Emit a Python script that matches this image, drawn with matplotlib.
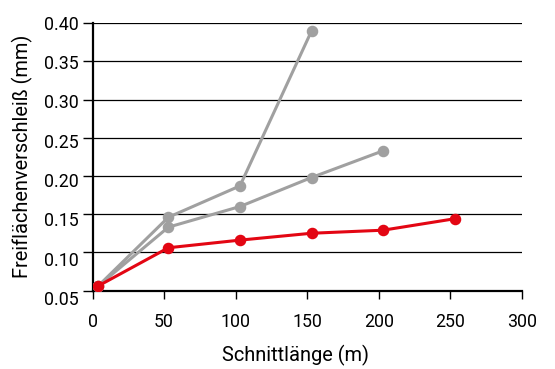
import matplotlib
matplotlib.use("Agg")
import matplotlib.pyplot as plt

# cutting length (m)
x_red = [4, 53, 103, 153, 203, 253]
wear_red = [0.056, 0.106, 0.116, 0.125, 0.129, 0.144]

x_gray1 = [4, 53, 103, 153]
wear_gray1 = [0.056, 0.146, 0.187, 0.390]

x_gray2 = [4, 53, 103, 153, 203]
wear_gray2 = [0.056, 0.133, 0.160, 0.198, 0.233]

y_ticks = [0.05, 0.10, 0.15, 0.20, 0.25, 0.30, 0.35, 0.40]
x_ticks = [0, 50, 100, 150, 200, 250, 300]

RED = "#e30613"
GRAY = "#a0a0a0"

plt.rcParams["font.family"] = ["Roboto", "DejaVu Sans"]
plt.rcParams["font.size"] = 12.8

fig = plt.figure(figsize=(5.55, 3.69), dpi=100)
ax = fig.add_axes([0.1667, 0.2127, 0.7738, 0.7242])

for y in y_ticks[1:]:
    ax.axhline(y, color="black", lw=0.9, zorder=1)

ax.plot(x_gray1, wear_gray1, color=GRAY, lw=2.2, marker="o", ms=7.3, zorder=3)
ax.plot(x_gray2, wear_gray2, color=GRAY, lw=2.2, marker="o", ms=7.3, zorder=3)
ax.plot(x_red, wear_red, color=RED, lw=2.2, marker="o", ms=7.3, zorder=4)

ax.set_xlim(0, 300)
ax.set_ylim(0.05, 0.40)
ax.set_xticks(x_ticks)
ax.set_yticks(y_ticks)
ax.set_yticklabels([])
ax.tick_params(axis="x", length=6, width=1, pad=10)
ax.tick_params(axis="y", length=7, width=1)
for s in ["top", "right"]:
    ax.spines[s].set_visible(False)
for s in ["left", "bottom"]:
    ax.spines[s].set_linewidth(1.6)

# the tick labels of the original are spread a little wider than the grid
lab = fig.add_axes([0.1667, 0.1924, 0.7738, 0.7461], frameon=False)
lab.set_ylim(0.05, 0.40)
lab.set_yticks(y_ticks)
lab.set_yticklabels([f"{v:.2f}" for v in y_ticks])
lab.set_xticks([])
lab.tick_params(axis="y", length=0, pad=10)
lab.patch.set_visible(False)

fig.text(0.532, 0.038, "Schnittlänge (m)", ha="center", va="center",
         fontsize=14.4)
fig.text(0.041, 0.577, "Freiflächenverschleiß (mm)", ha="center", va="center",
         rotation=90, fontsize=14.4)

fig.savefig("out.png", dpi=100)
